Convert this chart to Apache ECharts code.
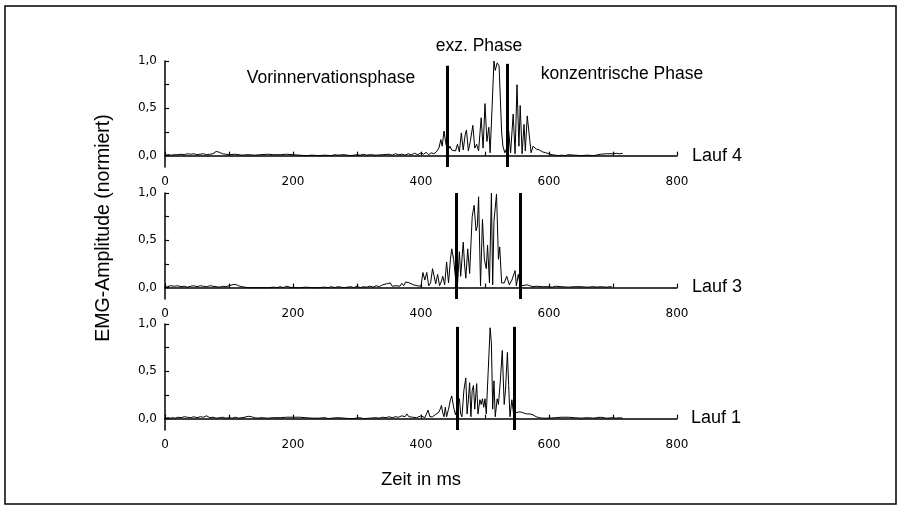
<!DOCTYPE html>
<html>
<head>
<meta charset="utf-8">
<script src="https://cdn.jsdelivr.net/npm/echarts@6/dist/echarts.min.js"></script>
<style>html,body{margin:0;padding:0;background:#fff}#c{width:902px;height:511px}</style>
</head>
<body>
<div id="c"></div>
<script>
// ---- Data ----
const runNames = ['Lauf 4', 'Lauf 3', 'Lauf 1'];
const xTicks = [0, 200, 400, 600, 800];
const yTicks = [0, 0.5, 1.0];

const lauf4 = [
[0,0.0],[5,0.01],[10,0.005],[15,0.01],[20,0.01],[25,0.015],[30,0.01],[35,0.02],[40,0.015],[45,0.02],[50,0.01],[55,0.015],[60,0.02],[65,0.01],[70,0.015],[75,0.02],[80,0.045],[85,0.035],[90,0.02],[95,0.015],[100,0.01],[110,0.015],[120,0.005],[130,0.01],[140,0.005],[150,0.01],[160,0.015],[170,0.01],[180,0.01],[190,0.015],[200,0.01],[210,0.005],[220,0.0],[230,0.005],[240,0.0],[250,0.005],[260,0.0],[265,0.01],[270,0.005],[280,0.01],[290,0.0],[300,0.01],[305,0.005],[310,0.015],[315,0.005],[320,0.01],[330,0.005],[340,0.01],[350,0.015],[355,0.005],[360,0.02],[365,0.01],[370,0.015],[375,0.005],[380,0.02],[385,0.01],[390,0.025],[395,0.01],[400,0.03],[404,0.015],[408,0.035],[412,0.01],[416,0.03],[420,0.02],[424,0.04],[428,0.08],[431,0.17],[433,0.1],[436,0.26],[439,0.12],[442,0.05],[445,0.1],[448,0.06],[451,0.08],[454,0.05],[457,0.12],[460,0.04],[463,0.24],[466,0.06],[469,0.22],[471,0.27],[474,0.05],[477,0.15],[481,0.32],[484,0.08],[487,0.12],[490,0.05],[494,0.4],[497,0.08],[500,0.55],[503,0.15],[506,0.3],[508,0.03],[511,0.5],[514,1.0],[516,0.9],[519,0.98],[522,0.95],[524,0.6],[526,0.25],[528,0.1],[531,0.03],[534,0.08],[537,0.26],[540,0.03],[544,0.44],[547,0.02],[550,0.75],[553,0.1],[555,0.53],[558,0.02],[561,0.33],[563,0.05],[566,0.42],[569,0.42],[572,0.03],[575,0.1],[580,0.07],[585,0.06],[590,0.04],[595,0.03],[600,0.02],[605,0.01],[610,0.005],[615,0.0],[620,0.005],[625,0.0],[630,0.01],[640,0.005],[650,0.0],[660,0.005],[670,0.0],[680,0.015],[690,0.02],[700,0.02],[705,0.025],[710,0.02],[715,0.025]
];
const lauf3 = [
[0,0.0],[3,0.01],[8,0.02],[15,0.015],[20,0.02],[25,0.01],[30,0.015],[35,0.005],[40,0.015],[45,0.02],[50,0.01],[55,0.02],[60,0.015],[65,0.01],[70,0.02],[75,0.015],[80,0.01],[85,0.005],[90,0.015],[95,0.01],[100,0.02],[105,0.03],[110,0.035],[115,0.02],[120,0.01],[125,0.005],[130,0.0],[140,0.0],[150,0.0],[160,0.0],[170,0.005],[175,0.0],[180,0.01],[185,0.0],[190,0.015],[195,0.005],[200,0.0],[210,0.0],[220,0.005],[230,0.0],[240,0.0],[250,0.005],[255,0.0],[260,0.01],[265,0.0],[270,0.01],[280,0.0],[290,0.01],[295,0.0],[300,0.015],[305,0.0],[310,0.01],[315,0.005],[320,0.015],[325,0.005],[330,0.02],[335,0.01],[340,0.03],[343,0.01],[346,0.04],[349,0.02],[352,0.05],[355,0.015],[358,0.035],[361,0.02],[364,0.03],[367,0.015],[370,0.045],[373,0.02],[376,0.06],[379,0.07],[382,0.05],[385,0.06],[388,0.03],[391,0.04],[394,0.02],[397,0.03],[400,0.015],[403,0.16],[406,0.08],[409,0.16],[412,0.02],[415,0.05],[418,0.2],[420,0.22],[423,0.04],[426,0.14],[429,0.02],[432,0.07],[434,0.12],[437,0.03],[440,0.27],[443,0.05],[446,0.3],[448,0.41],[451,0.3],[454,0.1],[457,0.02],[460,0.38],[462,0.12],[466,0.48],[468,0.25],[470,0.1],[473,0.41],[476,0.15],[480,0.75],[483,0.87],[486,0.6],[488,0.65],[490,0.96],[493,0.02],[496,0.72],[499,0.3],[502,0.2],[504,0.45],[507,0.05],[510,1.0],[512,0.03],[514,0.7],[518,0.99],[521,0.3],[523,0.43],[526,0.05],[530,0.05],[534,0.12],[538,0.03],[542,0.08],[547,0.18],[549,0.02],[552,0.14],[555,0.02],[558,0.03],[562,0.025],[566,0.03],[570,0.02],[575,0.01],[580,0.015],[590,0.01],[600,0.01],[605,0.005],[610,0.015],[620,0.01],[630,0.005],[640,0.01],[650,0.01],[660,0.005],[670,0.01],[675,0.005],[680,0.01],[690,0.005],[695,0.01],[698,0.01]
];
const lauf1 = [
[0,0.0],[4,0.01],[8,0.005],[12,0.01],[16,0.005],[20,0.015],[25,0.01],[30,0.02],[35,0.015],[40,0.01],[45,0.02],[50,0.01],[55,0.02],[60,0.015],[65,0.03],[70,0.01],[75,0.015],[80,0.005],[85,0.01],[90,0.015],[95,0.005],[100,0.01],[105,0.005],[110,0.015],[115,0.005],[120,0.01],[125,0.015],[130,0.025],[135,0.02],[140,0.01],[145,0.005],[150,0.01],[160,0.005],[170,0.01],[180,0.01],[190,0.015],[200,0.015],[210,0.015],[220,0.01],[230,0.005],[240,0.005],[250,0.01],[255,0.0],[260,0.005],[270,0.01],[280,0.005],[290,0.0],[300,0.005],[305,0.01],[310,0.0],[320,0.005],[330,0.01],[335,0.005],[340,0.015],[345,0.01],[350,0.02],[355,0.01],[360,0.02],[365,0.015],[370,0.03],[375,0.02],[378,0.05],[381,0.02],[384,0.035],[387,0.015],[390,0.025],[393,0.01],[396,0.02],[400,0.03],[403,0.015],[406,0.01],[409,0.03],[411,0.09],[414,0.02],[418,0.02],[422,0.04],[425,0.03],[428,0.07],[430,0.1],[432,0.14],[434,0.06],[436,0.02],[438,0.12],[440,0.02],[443,0.1],[446,0.2],[448,0.24],[451,0.12],[454,0.04],[457,0.02],[460,0.21],[462,0.05],[464,0.02],[467,0.3],[470,0.43],[472,0.05],[474,0.2],[476,0.38],[478,0.02],[480,0.3],[482,0.35],[484,0.1],[487,0.37],[489,0.05],[492,0.2],[494,0.15],[496,0.21],[498,0.12],[500,0.21],[502,0.05],[505,0.5],[508,0.96],[510,0.8],[512,0.1],[514,0.4],[516,0.02],[519,0.21],[521,0.15],[524,0.4],[527,0.72],[530,0.15],[532,0.3],[535,0.7],[537,0.35],[539,0.02],[542,0.2],[545,0.03],[548,0.06],[552,0.07],[556,0.07],[560,0.06],[565,0.05],[570,0.05],[575,0.04],[580,0.02],[585,0.01],[590,0.005],[600,0.005],[610,0.01],[620,0.015],[630,0.015],[640,0.01],[650,0.005],[660,0.01],[670,0.005],[680,0.015],[690,0.005],[700,0.01],[705,0.005],[710,0.01],[715,0.005]
];
// phase boundary markers [time ms, top value]
const markers4 = [[441.7, 0.95], [535.5, 0.97]];
const markers3 = [[455.7, 1.0], [554.7, 1.0]];
const markers1 = [[457.0, 0.97], [545.8, 0.97]];

const yMin = -0.12, yMax = 1.0;
const runs = [lauf4, lauf3, lauf1];
const markers = [markers4, markers3, markers1];

// ---- Layout ----
const FONT = 'Liberation Sans, Arial, Helvetica, sans-serif';
const TICKFONT = 'DejaVu Sans, sans-serif';
const gridTops = [61, 193, 324];
const gridH = 106;

const grids = gridTops.map(t => ({ left: 165, right: 225, top: t, height: gridH }));
const xAxes = gridTops.map((t, i) => ({
  type: 'value', gridIndex: i, min: 0, max: 800, interval: 200,
  axisLine: { show: true, lineStyle: { color: '#000', width: 1.5 } },
  axisTick: { show: true, inside: true, length: 4, lineStyle: { color: '#000', width: 1.2 } },
  minorTick: { show: true, splitNumber: 2, length: 4, lineStyle: { color: '#000', width: 1.2 } },
  splitLine: { show: false },
  axisLabel: { color: '#000', fontSize: 12, fontFamily: TICKFONT, margin: 9,
    customValues: xTicks }
}));
const yAxes = gridTops.map((t, i) => ({
  type: 'value', gridIndex: i, min: yMin, max: yMax,
  axisLine: { show: true, lineStyle: { color: '#000', width: 1.5 } },
  axisTick: { show: true, inside: true, length: 4, lineStyle: { color: '#000', width: 1.2 },
    customValues: [0, 0.25, 0.5, 0.75, 1.0] },
  splitLine: { show: false },
  axisLabel: { color: '#000', fontSize: 12, fontFamily: TICKFONT, margin: 8,
    customValues: yTicks,
    formatter: v => v.toFixed(1).replace('.', ',') }
}));

const series = runs.map((d, i) => ({
  type: 'line', xAxisIndex: i, yAxisIndex: i, data: d,
  showSymbol: false, symbol: 'none', silent: true,
  lineStyle: { color: '#000', width: 1 },
  markLine: {
    silent: true, symbol: ['none', 'none'], label: { show: false },
    lineStyle: { color: '#000', width: 3, type: 'solid' },
    data: markers[i].map(m => [{ coord: [m[0], yMin] }, { coord: [m[0], m[1]] }])
  }
}));

const txt = (x, y, s, size, align) => ({
  type: 'text', x: x, y: y,
  style: { text: s, fill: '#000', font: size + 'px ' + FONT, textAlign: align || 'left', textVerticalAlign: 'middle' }
});

const graphics = [
  { type: 'rect', shape: { x: 5, y: 6, width: 891, height: 498 }, style: { fill: 'none', stroke: '#000', lineWidth: 1.5 } },
  txt(331, 78, 'Vorinnervationsphase', 17.5, 'center'),
  txt(479, 46, 'exz. Phase', 17.5, 'center'),
  txt(622, 74, 'konzentrische Phase', 17.5, 'center'),
  txt(692, 156, runNames[0], 18, 'left'),
  txt(692, 287, runNames[1], 18, 'left'),
  txt(691, 418, runNames[2], 18, 'left'),
  txt(421, 480, 'Zeit in ms', 18.5, 'center'),
  { type: 'text', x: 104, y: 228, rotation: Math.PI / 2,
    style: { text: 'EMG-Amplitude (normiert)', fill: '#000', font: '19.5px ' + FONT, textAlign: 'center', textVerticalAlign: 'middle' } }
];

const chart = echarts.init(document.getElementById('c'), null, { renderer: 'canvas' });
chart.setOption({
  animation: false,
  backgroundColor: '#fff',
  grid: grids, xAxis: xAxes, yAxis: yAxes, series: series,
  graphic: graphics
});
</script>
</body>
</html>
